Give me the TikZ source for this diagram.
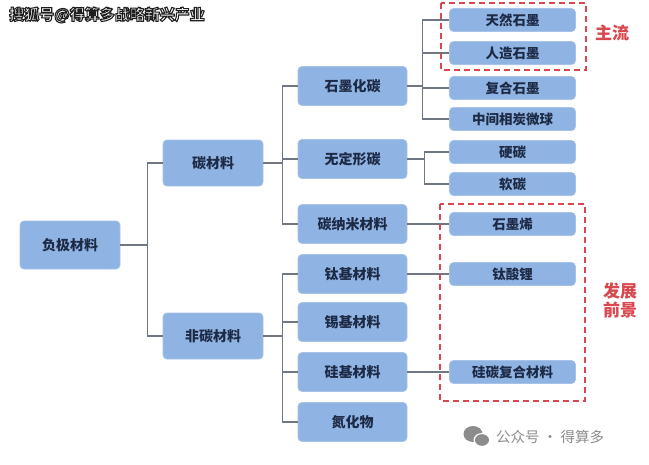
\documentclass[tikz,border=0pt]{standalone}
\usepackage{fontspec}
\setmainfont{Noto Sans CJK SC}
\definecolor{boxfill}{HTML}{8FB3E2}
\definecolor{boxline}{HTML}{A8C3E8}
\definecolor{boxtext}{HTML}{1D2A45}
\definecolor{linkc}{HTML}{6E7782}
\definecolor{redc}{HTML}{D9474F}
\definecolor{wmgray}{HTML}{8C8C8C}
\newcommand{\outlinetext}[1]{\special{pdf:literal direct 2 Tr 1.1 w 0.12 0.12 0.12 RG}#1\special{pdf:literal direct 0 Tr}}
\tikzset{
  mbox/.style={draw=boxline, line width=0.8pt, fill=boxfill, rounded corners=4pt,
    text=boxtext, font=\fontsize{14}{14}\selectfont\bfseries, inner sep=0pt},
  lv0/.style={mbox, minimum width=100pt, minimum height=48pt},
  lv1/.style={mbox, minimum width=100pt, minimum height=46pt},
  lv2/.style={mbox, minimum width=109pt, minimum height=39pt},
  lv3/.style={mbox, minimum width=126pt, minimum height=23pt, font=\fontsize{13.5}{13.5}\selectfont\bfseries},
  link/.style={draw=linkc, line width=1.2pt},
  redbox/.style={draw=redc, line width=1.6pt, dash pattern=on 6pt off 4pt},
  redlabel/.style={text=redc, font=\fontsize{17}{19}\selectfont\bfseries, align=center, inner sep=0pt}
}
\begin{document}
\begin{tikzpicture}[x=1pt,y=-1pt]
\useasboundingbox (0,0) rectangle (649,464);
\fill[white] (0,0) rectangle (649,464);
% level 0
\node[lv0] (root) at (70,245) {负极材料};
% level 1
\node[lv1] (c) at (213,163) {碳材料};
\node[lv1] (nc) at (213,336) {非碳材料};
% level 2
\node[lv2] (gh) at (352.5,86) {石墨化碳};
\node[lv2] (wd) at (352.5,159) {无定形碳};
\node[lv2] (nm) at (352.5,224) {碳纳米材料};
\node[lv2] (ti) at (352.5,274) {钛基材料};
\node[lv2] (sn) at (352.5,322) {锡基材料};
\node[lv2] (si) at (352.5,372) {硅基材料};
\node[lv2] (nt) at (352.5,422) {氮化物};
% level 3
\node[lv3] (tr) at (512.5,20) {天然石墨};
\node[lv3] (rz) at (512.5,53) {人造石墨};
\node[lv3] (fh) at (512.5,88) {复合石墨};
\node[lv3] (zj) at (512.5,119) {中间相炭微球};
\node[lv3] (yt) at (512.5,152) {硬碳};
\node[lv3] (rt) at (512.5,184) {软碳};
\node[lv3] (sx) at (512.5,224) {石墨烯};
\node[lv3] (ts) at (512.5,274) {钛酸锂};
\node[lv3] (gt) at (512.5,372) {硅碳复合材料};
% connectors
\foreach \ch in {c,nc} \draw[link] (root.east) -- ++(27,0) |- (\ch.west);
\foreach \ch in {gh,wd,nm} \draw[link] (c.east) -- ++(19,0) |- (\ch.west);
\foreach \ch in {ti,sn,si,nt} \draw[link] (nc.east) -- ++(19,0) |- (\ch.west);
\foreach \ch in {tr,rz,fh,zj} \draw[link] (gh.east) -- ++(15,0) |- (\ch.west);
\foreach \ch in {yt,rt} \draw[link] (wd.east) -- ++(17,0) |- (\ch.west);
\draw[link] (nm.east) -- (sx.west);
\draw[link] (ti.east) -- (ts.west);
\draw[link] (si.east) -- (gt.west);
% red dashed groups
\draw[redbox] (441,3) rectangle (586,70);
\draw[redbox] (440,204) rectangle (585,401);
\node[redlabel] (zl) at (612,33) {主流};
\node[redlabel] (fz) at (620,300) {发展\\前景};
% watermarks
\node[anchor=west, inner sep=0pt, text=white, font=\fontsize{15}{15}\selectfont\bfseries] (wm1) at (9,15) {\outlinetext{搜狐号@得算多战略新兴产业}};
\fill[wmgray] (473,434) ellipse (9.5pt and 8pt);
\fill[white] (482,440) ellipse (8.5pt and 7pt);
\fill[wmgray] (482,440) ellipse (7pt and 5.8pt);
\node[anchor=west, inner sep=0pt, text=wmgray, font=\fontsize{14.5}{14.5}\selectfont] (wm2) at (496,437) {公众号 · 得算多};
\end{tikzpicture}
\end{document}
